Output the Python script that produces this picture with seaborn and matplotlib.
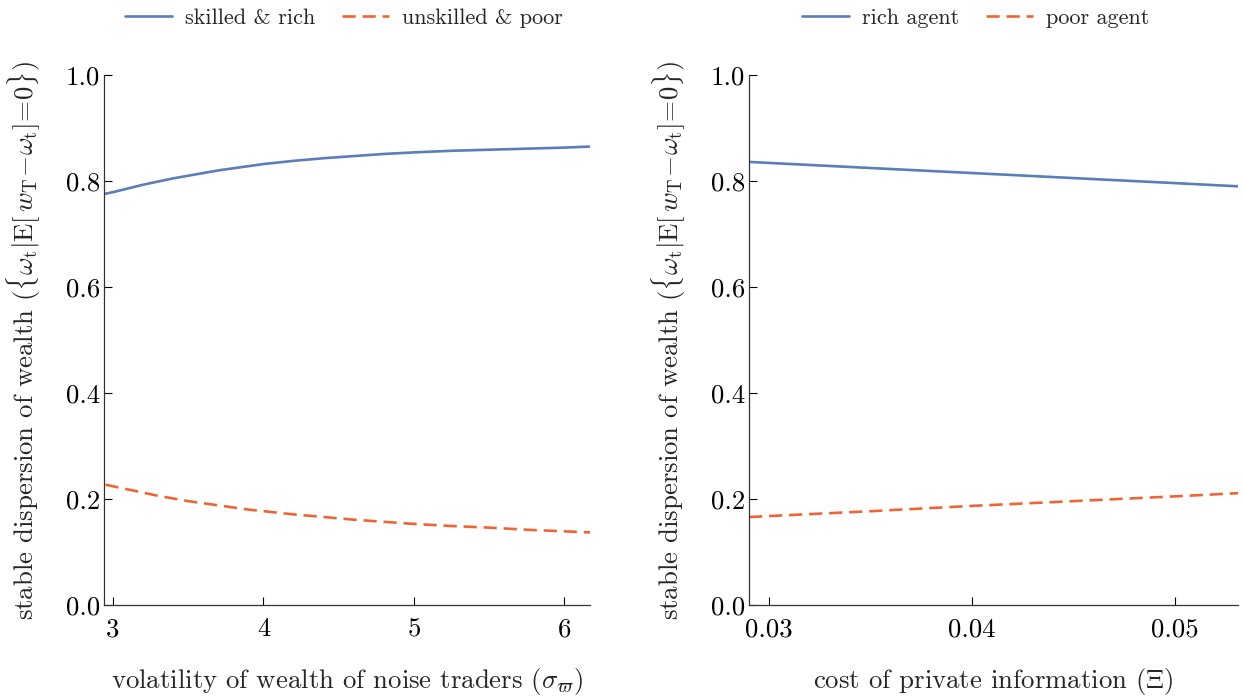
import numpy as np
import pandas as pd
import matplotlib
matplotlib.use("Agg")
import matplotlib.pyplot as plt
import seaborn as sns

# ---- data ----
sigma_x = [2.95, 3.0, 3.1, 3.2, 3.3, 3.4, 3.5, 3.6, 3.7, 3.8, 3.9, 4.0,
           4.2, 4.4, 4.6, 4.8, 5.0, 5.25, 5.5, 5.75, 6.0, 6.17]
skilled_rich = [0.776, 0.779, 0.786, 0.793, 0.799, 0.805, 0.810, 0.815, 0.820, 0.824, 0.828, 0.832,
                0.838, 0.843, 0.847, 0.851, 0.854, 0.857, 0.859, 0.861, 0.863, 0.865]
unskilled_poor = [0.227, 0.224, 0.218, 0.212, 0.206, 0.201, 0.196, 0.192, 0.188, 0.184, 0.180, 0.177,
                  0.171, 0.166, 0.161, 0.157, 0.153, 0.149, 0.146, 0.142, 0.139, 0.137]

xi_x = [0.029, 0.035, 0.040, 0.045, 0.050, 0.0531]
rich_agent = [0.836, 0.8245, 0.815, 0.8055, 0.796, 0.790]
poor_agent = [0.166, 0.177, 0.187, 0.196, 0.205, 0.211]

left_xticks = [3, 4, 5, 6]
right_xticks = [0.03, 0.04, 0.05]
yticks = [0.0, 0.2, 0.4, 0.6, 0.8, 1.0]

BLUE = "#5b7db9"
ORANGE = "#ee6434"

sns.set_theme(style="ticks")
plt.rcParams["font.family"] = ["cmr10", "DejaVu Serif"]
plt.rcParams["mathtext.fontset"] = "cm"
plt.rcParams["axes.formatter.use_mathtext"] = True
plt.rcParams["axes.unicode_minus"] = False

FS = 19.3
LFS = 16

fig = plt.figure(figsize=(12.44, 6.97), dpi=100)
axL = fig.add_axes([104/1244, 1-605/697, (590-104)/1244, (605-75)/697])
axR = fig.add_axes([749/1244, 1-605/697, (1238-749)/1244, (605-75)/697])

dash = (0, (5.0, 2.6))
LW = 1.9
sns.lineplot(x=sigma_x, y=skilled_rich, ax=axL, color=BLUE, lw=LW, label="skilled & rich")
sns.lineplot(x=sigma_x, y=unskilled_poor, ax=axL, color=ORANGE, lw=LW, linestyle=dash, label="unskilled & poor")
sns.lineplot(x=xi_x, y=rich_agent, ax=axR, color=BLUE, lw=LW, label="rich agent")
sns.lineplot(x=xi_x, y=poor_agent, ax=axR, color=ORANGE, lw=LW, linestyle=dash, label="poor agent")

ylab = r"stable dispersion of wealth $(\{\omega_{\rm t}|{\rm E}[\,w_{\rm T}\!-\!\omega_{\rm t}]\!=\!0\})$"

for ax, xt, xlim, xl, lc in [
    (axL, left_xticks, (2.94, 6.17), r"volatility of wealth of noise traders $(\sigma_{\varpi})$", 344),
    (axR, right_xticks, (0.029, 0.0531), r"cost of private information $(\Xi)$", 976),
]:
    h, l = ax.get_legend_handles_labels()
    ax.get_legend().remove()
    fig.legend(h, l, loc="center", bbox_to_anchor=(lc/1244, 1-18/697), ncol=2, frameon=False,
               fontsize=LFS, handlelength=2.1, columnspacing=1.2, handletextpad=0.6)
    ax.set_xlim(*xlim)
    ax.set_ylim(0, 1.0)
    ax.set_xticks(xt)
    ax.set_yticks(yticks)
    ax.set_yticklabels([f"{v:.1f}" for v in yticks])
    if ax is axR:
        ax.set_xticklabels([f"{v:.2f}" for v in xt])
    else:
        ax.set_xticklabels([str(v) for v in xt])
    ax.tick_params(direction="in", length=6, width=0.8, labelsize=FS, colors="black")
    ax.tick_params(axis="x", pad=9)
    ax.tick_params(axis="y", pad=3)
    for s in ["top", "right"]:
        ax.spines[s].set_visible(False)
    for s in ["left", "bottom"]:
        ax.spines[s].set_color("#333333")
        ax.spines[s].set_linewidth(0.9)
    ax.set_xlabel(xl, fontsize=FS, labelpad=18)
    ax.set_ylabel(ylab, fontsize=FS, labelpad=16)

fig.savefig("out.png", dpi=100)
